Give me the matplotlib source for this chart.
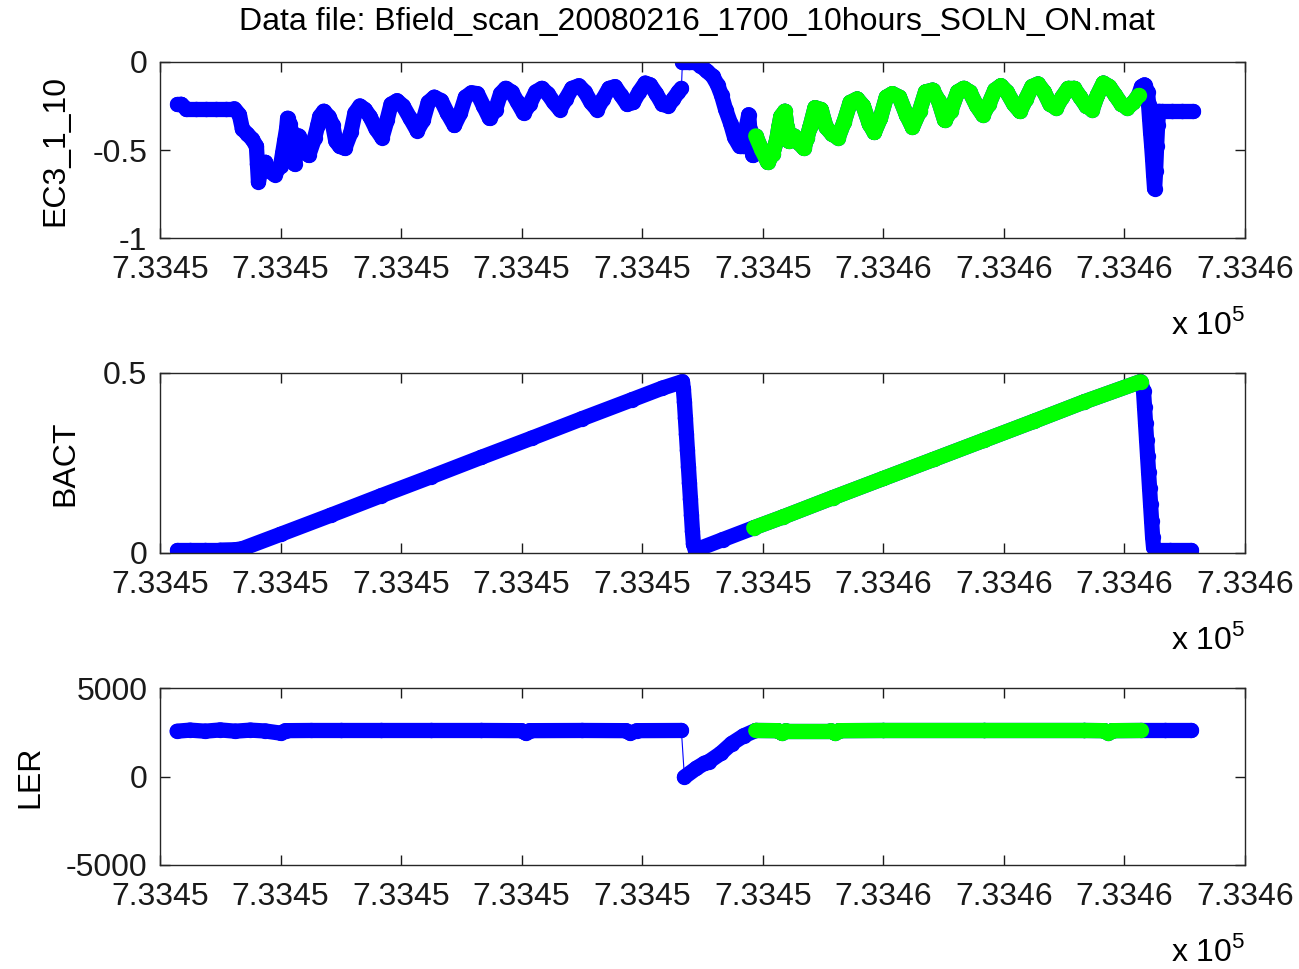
import numpy as np
import matplotlib
matplotlib.use("Agg")
import matplotlib.pyplot as plt
from matplotlib.collections import LineCollection

plt.rcParams["font.family"] = ["Liberation Sans", "DejaVu Sans"]
plt.rcParams["mathtext.fontset"] = "custom"
plt.rcParams["mathtext.rm"] = "Liberation Sans"
plt.rcParams["axes.unicode_minus"] = False

TITLE = "Data file: Bfield_scan_20080216_1700_10hours_SOLN_ON.mat"
DAY0 = 733454          # MATLAB datenum of 2008-02-16
START_HOUR = 17        # scan starts 17:00

# hours after 17:00
T_EC3 = [-0.03, 0.01, 0.06, 0.16, 0.26, 0.36, 0.46, 0.54, 0.59, 0.62, 0.67, 0.72, 0.76, 0.77, 0.78,
         0.81, 0.85, 0.89, 0.94, 1.00, 1.02, 1.04, 1.06, 1.07, 1.09, 1.11, 1.12, 1.14, 1.16, 1.18,
         1.23, 1.28, 1.34, 1.37, 1.39, 1.43, 1.48, 1.52, 1.55, 1.59, 1.64, 1.70, 1.74, 1.79, 1.84,
         1.89, 1.95, 2.01, 2.06, 2.10, 2.16, 2.22, 2.29, 2.36, 2.42, 2.47, 2.53, 2.60, 2.66, 2.73,
         2.79, 2.84, 2.90, 2.96, 3.02, 3.08, 3.14, 3.19, 3.24, 3.30, 3.36, 3.42, 3.48, 3.54, 3.60,
         3.66, 3.72, 3.78, 3.84, 3.90, 3.97, 4.03, 4.09, 4.15, 4.21, 4.27, 4.33, 4.39, 4.45, 4.51,
         4.57, 4.63, 4.68, 4.74, 4.80, 4.86, 4.91, 4.96, 4.99, 5.00, 5.07, 5.12, 5.18, 5.24, 5.30,
         5.35, 5.39, 5.43, 5.48, 5.52, 5.57, 5.61, 5.63, 5.64, 5.66, 5.67, 5.68, 5.70,
         5.73, 5.79, 5.85, 5.90, 5.94, 5.96, 5.98, 6.02, 6.04, 6.06, 6.11, 6.16, 6.21, 6.24, 6.27,
         6.32, 6.38, 6.43, 6.49, 6.55, 6.61, 6.67, 6.74, 6.80, 6.86, 6.91, 6.97, 7.03, 7.09, 7.16,
         7.23, 7.29, 7.36, 7.42, 7.49, 7.55, 7.61, 7.67, 7.74, 7.80, 7.86, 7.93, 7.99, 8.05, 8.11,
         8.17, 8.23, 8.30, 8.36, 8.42, 8.48, 8.54, 8.60, 8.66, 8.72, 8.78, 8.84, 8.90, 8.96, 9.02,
         9.08, 9.13, 9.19, 9.25, 9.31, 9.37, 9.43, 9.49, 9.54,
         9.57, 9.60, 9.63, 9.64, 9.65, 9.66, 9.67, 9.68, 9.69, 9.70, 9.71, 9.72, 9.73, 9.74, 9.77,
         9.87, 9.97, 10.08]
EC3 = [-0.24, -0.24, -0.265, -0.265, -0.265, -0.265, -0.265, -0.265, -0.30, -0.38, -0.41, -0.44, -0.48, -0.58, -0.68,
       -0.60, -0.57, -0.62, -0.64, -0.59, -0.52, -0.45, -0.38, -0.32, -0.35, -0.40, -0.48, -0.58, -0.50, -0.42,
       -0.48, -0.53, -0.43, -0.36, -0.31, -0.28, -0.31, -0.36, -0.45, -0.48, -0.49, -0.40, -0.29, -0.25, -0.27,
       -0.31, -0.38, -0.43, -0.33, -0.24, -0.22, -0.25, -0.32, -0.39, -0.33, -0.23, -0.20, -0.22, -0.29, -0.36,
       -0.29, -0.20, -0.175, -0.18, -0.25, -0.32, -0.27, -0.18, -0.15, -0.17, -0.23, -0.29, -0.24, -0.17, -0.15,
       -0.18, -0.23, -0.27, -0.21, -0.15, -0.135, -0.17, -0.23, -0.27, -0.21, -0.15, -0.14, -0.19, -0.24, -0.23,
       -0.17, -0.12, -0.13, -0.18, -0.24, -0.25, -0.21, -0.17, -0.15, 0.00, 0.00, 0.00, -0.02, -0.05, -0.08,
       -0.13, -0.19, -0.27, -0.35, -0.43, -0.48, -0.48, -0.42, -0.36, -0.30, -0.38, -0.45, -0.53,
       -0.42, -0.50, -0.57, -0.52, -0.44, -0.37, -0.31, -0.28, -0.37, -0.45, -0.42, -0.46, -0.49, -0.43, -0.37,
       -0.26, -0.27, -0.37, -0.41, -0.43, -0.34, -0.23, -0.21, -0.25, -0.35, -0.40, -0.32, -0.20, -0.18, -0.20,
       -0.30, -0.37, -0.28, -0.17, -0.16, -0.22, -0.33, -0.28, -0.17, -0.15, -0.17, -0.25, -0.30, -0.24, -0.16,
       -0.135, -0.17, -0.24, -0.28, -0.21, -0.14, -0.125, -0.17, -0.24, -0.26, -0.20, -0.15, -0.15, -0.20, -0.25,
       -0.27, -0.19, -0.12, -0.14, -0.19, -0.24, -0.26, -0.23, -0.19,
       -0.14, -0.13, -0.17, -0.24, -0.32, -0.40, -0.47, -0.55, -0.64, -0.72, -0.62, -0.48, -0.36, -0.28, -0.28,
       -0.28, -0.28, -0.28]

T_BACT = [-0.03, 0.10, 0.25, 0.40, 0.55, 0.62, 1.00, 1.50, 2.00, 2.50, 3.00, 3.50, 4.00, 4.50, 4.80,
          5.00, 5.01, 5.02, 5.03, 5.04, 5.05, 5.06, 5.07, 5.08, 5.09, 5.10, 5.11, 5.13, 5.40, 5.71,
          6.00, 6.50, 7.00, 7.50, 8.00, 8.50, 9.00, 9.56, 9.59, 9.60, 9.61, 9.62, 9.63, 9.64, 9.65,
          9.66, 9.67, 9.68, 9.69, 9.72, 9.85, 10.06]
BACT = [0.008, 0.008, 0.008, 0.008, 0.009, 0.012, 0.052, 0.105, 0.159, 0.212, 0.266, 0.319, 0.373, 0.426, 0.458,
        0.476, 0.455, 0.420, 0.375, 0.330, 0.285, 0.240, 0.195, 0.150, 0.105, 0.060, 0.025, 0.008, 0.037, 0.070,
        0.100, 0.154, 0.207, 0.260, 0.313, 0.366, 0.420, 0.476, 0.450, 0.405, 0.360, 0.315, 0.270, 0.225, 0.180,
        0.135, 0.090, 0.045, 0.015, 0.008, 0.008, 0.008]

T_LER = [-0.03, 0.10, 0.25, 0.40, 0.55, 0.70, 0.85, 1.00, 1.05, 1.30, 1.60, 2.00, 2.50, 3.00, 3.40,
         3.44, 3.48, 4.00, 4.44, 4.48, 4.55, 4.99, 5.02, 5.14, 5.22, 5.26, 5.38, 5.49, 5.61, 5.73,
         5.95, 5.99, 6.03, 6.48, 6.52, 6.56, 7.00, 8.00, 9.00, 9.20, 9.24, 9.28, 9.56, 9.80, 10.06]
LER = [2560, 2620, 2560, 2630, 2560, 2620, 2570, 2450, 2590, 2600, 2600, 2600, 2600, 2600, 2590,
       2450, 2590, 2600, 2590, 2450, 2590, 2600, -30, 470, 750, 830, 1300, 1860, 2300, 2600,
       2590, 2450, 2590, 2590, 2450, 2590, 2600, 2600, 2600, 2590, 2460, 2590, 2600, 2600, 2600]

# the highlighted (green) part of the scan, hours after 17:00
GREEN_START = 5.705
GREEN_END = 9.565

XTICKS = [733454.70, 733454.75, 733454.80, 733454.85, 733454.90,
          733454.95, 733455.00, 733455.05, 733455.10, 733455.15]
XTICK_LABELS = ["7.3345", "7.3345", "7.3345", "7.3345", "7.3345",
                "7.3345", "7.3346", "7.3346", "7.3346", "7.3346"]

BLUE = "#0000ff"
GREEN = "#00ff00"
FS = 23
BAND = 11   # marker / band width in points


def to_datenum(hours):
    return DAY0 + (START_HOUR + np.asarray(hours)) / 24.0


def draw_trace(ax, t, v, color, jump):
    # MATLAB 'o-' look: big filled markers over a thin line; dense runs read as a band
    x = to_datenum(t)
    v = np.asarray(v, dtype=float)
    ax.plot(x, v, "-", color=color, lw=0.8, zorder=2)
    idx = np.flatnonzero(np.abs(np.diff(v)) <= jump)
    segs = [[(x[i], v[i]), (x[i + 1], v[i + 1])] for i in idx]
    ax.add_collection(LineCollection(segs, colors=color, linewidths=BAND,
                                     capstyle="round", zorder=2))
    ax.plot(x, v, "o", ms=BAND, mew=0, color=color, zorder=2)


def panel(ax, t, v, ylabel, ylim, yticks, yticklabels, label_x, jump):
    t = np.asarray(t)
    v = np.asarray(v, dtype=float)
    draw_trace(ax, t, v, BLUE, jump)
    m = (t >= GREEN_START) & (t <= GREEN_END)
    draw_trace(ax, t[m], v[m], GREEN, jump)

    ax.set_xlim(XTICKS[0], XTICKS[-1])
    ax.set_ylim(*ylim)
    ax.set_xticks(XTICKS)
    ax.set_xticklabels(XTICK_LABELS)
    ax.set_yticks(yticks)
    ax.set_yticklabels(yticklabels)
    ax.tick_params(direction="in", top=True, right=True, length=7, width=1,
                   labelsize=FS, colors="#1a1a1a")
    ax.tick_params(axis="x", pad=12)
    ax.tick_params(axis="y", pad=9)
    for s in ax.spines.values():
        s.set_linewidth(1.0)
        s.set_color("#262626")
    ax.set_ylabel(ylabel, fontsize=FS)
    ax.yaxis.set_label_coords(label_x, 0.5)
    ax.yaxis.label.set_va("center")
    ax.annotate(r"x 10$^{5}$", xy=(1, 0), xycoords="axes fraction",
                xytext=(0, -69), textcoords="offset points",
                ha="right", va="baseline", fontsize=FS)


fig = plt.figure(figsize=(12.99, 9.69), dpi=100)
W, H = 1299.0, 969.0
left, right = 160, 1245
boxes = [(62, 238), (373, 553), (688, 865)]
axes = [fig.add_axes([left / W, 1 - b / H, (right - left) / W, (b - t) / H]) for t, b in boxes]

panel(axes[0], T_EC3, EC3, "EC3_1_10", (-1, 0), [-1, -0.5, 0], ["-1", "-0.5", "0"],
      (55 - left) / (right - left), 0.14)
panel(axes[1], T_BACT, BACT, "BACT", (0, 0.5), [0, 0.5], ["0", "0.5"],
      (65 - left) / (right - left), 0.07)
panel(axes[2], T_LER, LER, "LER", (-5000, 5000), [-5000, 0, 5000], ["-5000", "0", "5000"],
      (30 - left) / (right - left), 1400)

fig.text(697 / W, 1 - 22 / H, TITLE, ha="center", va="center", fontsize=FS)

fig.savefig("out.png", dpi=100)
